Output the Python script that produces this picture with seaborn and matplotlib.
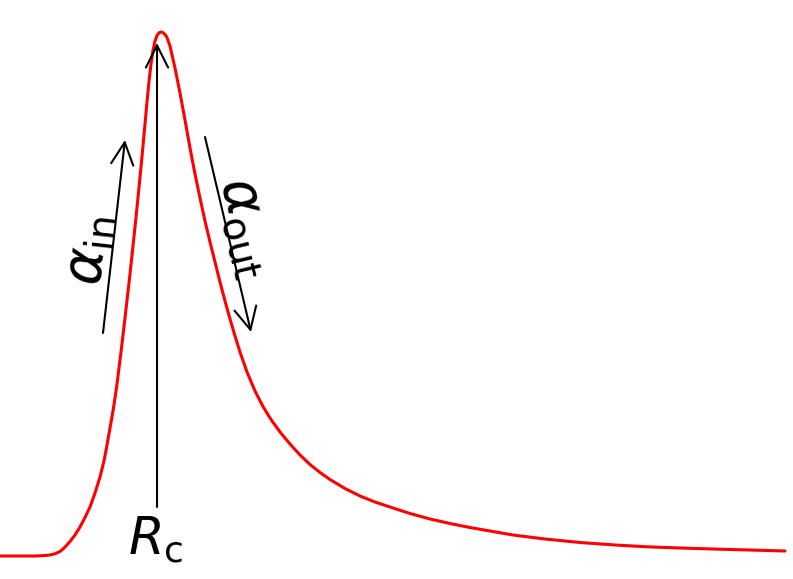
import numpy as np
import pandas as pd
import matplotlib.pyplot as plt
import seaborn as sns

# radial profile (r in px, profile_y = pixel row of the curve)
r = [0, 20, 35, 45, 50, 55, 60, 63, 66, 70,
     75, 80, 85, 90, 95, 100, 104, 107, 110, 113,
     115, 117, 119, 121, 123, 125, 127, 129, 131, 133,
     135, 137, 139, 141, 143, 145, 147, 149, 151, 153,
     155, 157, 159, 161, 163, 165, 167, 170, 175, 180,
     185, 190, 195, 200, 205, 210, 215, 220, 225, 230,
     235, 240, 247, 255, 263, 271, 280, 290, 300, 310,
     320, 330, 345, 360, 375, 390, 410, 430, 450, 470,
     490, 513, 545, 580, 615, 647, 680, 713, 750, 785]
profile_y = [556, 556, 556, 555.5, 555, 553.8, 551.5, 549, 546, 541.5,
             535, 527, 517.5, 507, 493, 477, 461, 445, 428, 411,
             398, 384, 368, 352, 335, 318, 300.5, 283, 264.5, 246,
             227, 207.5, 187.5, 167, 146, 124, 102, 81.5, 64, 50.5,
             41, 35.5, 32.8, 32, 32.6, 34.5, 37.5, 46, 68, 93,
             120, 148, 174, 198, 221, 242, 262, 282, 301, 319,
             336, 352, 372, 391, 406.5, 419.5, 432, 444, 455, 464.5,
             472.5, 479.5, 488.5, 496, 502, 507, 513.5, 519, 523.5, 527.5,
             531, 535, 539, 542.5, 545, 546.8, 548, 549, 550, 551]
intensity = [579 - v for v in profile_y]

rc = 157
labels = [r"$R_\mathrm{c}$", r"$\alpha_\mathrm{in}$", r"$\alpha_\mathrm{out}$"]

df = pd.DataFrame({"r": r, "intensity": intensity})

sns.set_theme(style="white")
fig = plt.figure(figsize=(7.93, 5.79), dpi=100)
ax = fig.add_axes([0, 0, 1, 1])

sns.lineplot(data=df, x="r", y="intensity", color="#ff0000", linewidth=2.2, ax=ax,
             solid_joinstyle="round")

arrow = dict(arrowstyle="->", lw=1.5, color="black", mutation_scale=40,
             shrinkA=0, shrinkB=0)
ax.annotate("", xy=(rc, 536), xytext=(rc, 72), arrowprops=arrow)
ax.annotate("", xy=(125, 439), xytext=(103, 246), arrowprops=arrow)
ax.annotate("", xy=(251, 247), xytext=(205, 442), arrowprops=arrow)

ax.text(156, 39, labels[0], fontsize=37, ha="center", va="center", color="black")
ax.text(89, 329, labels[1], fontsize=40, ha="center", va="center", rotation=83.5,
        rotation_mode="anchor", color="black")
ax.text(248, 352, labels[2], fontsize=40, ha="center", va="center", rotation=-76.5,
        rotation_mode="anchor", color="black")

ax.set_xlim(0, 793)
ax.set_ylim(0, 579)
ax.axis("off")

fig.savefig("out.png", dpi=100)
